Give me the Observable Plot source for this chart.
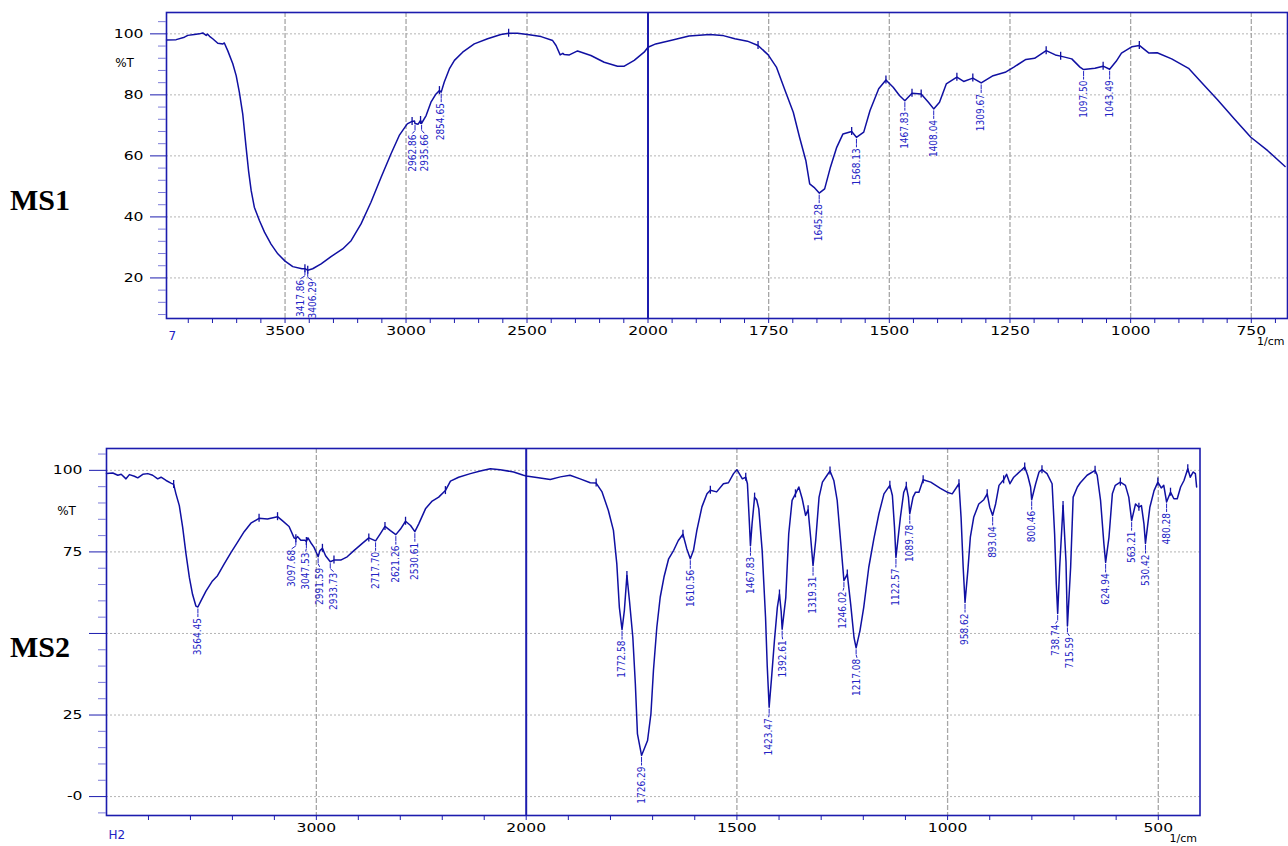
<!DOCTYPE html>
<html><head><meta charset="utf-8">
<script src="https://cdn.jsdelivr.net/npm/d3@7"></script>
<script src="https://cdn.jsdelivr.net/npm/@observablehq/plot@0.6"></script>
<style>
html,body{margin:0;padding:0;background:#fff}
body{width:1288px;height:846px;position:relative;overflow:hidden}
#p1{position:absolute;left:0;top:0}
#p2{position:absolute;left:0;top:430px}
.lab{position:absolute;font-family:"Liberation Serif","Times New Roman",serif;font-weight:bold;font-size:30px;line-height:30px;color:#000}
</style></head><body>
<div id="p1"></div><div id="p2"></div>
<div class="lab" style="left:10px;top:185px">MS1</div>
<div class="lab" style="left:10px;top:632px">MS2</div>
<script>
// ---------------- MS1 data ----------------
const ms1Wavenumber = [3990,3950,3916,3902,3875,3854,3840,3826,3820,3812,3799,3778,3757,3751,3737,3716,3702,3689,3675,3661,3651,3640,3627,3606,3585,3558,3530,3500,3468,3430,3417.86,3410,3406.29,3386,3351,3310,3262,3227,3186,3145,3103,3062,3028,2995,2975,2965,2962.86,2950,2940,2935.66,2917,2897,2876,2862,2854.65,2842,2821,2800,2766,2718,2663,2608,2576,2539,2498,2442,2394,2380,2363,2352,2346,2325,2291,2236,2181,2126,2098,2057,2016,2000,
  1984,1949,1915,1872,1846,1820,1794,1772,1751,1734,1716,1699,1686,1673,1665,1656,1645.28,1634,1622,1609,1596,1578,1568.13,1553,1540,1522,1507,1492,1479,1467.83,1453,1434,1419,1408.04,1396,1382,1360,1346,1327,1309.67,1285,1260,1242,1217,1199,1175,1156,1145,1122,1105,1097.5,1074,1057,1043.49,1030,1019,997,982,962,945,915,880,854,820,785,751,716,680];
const ms1Transmittance = [98.0,98.1,98.9,99.5,99.8,100.0,100.3,99.5,99.9,99.2,98.4,96.9,96.7,97.0,94.5,90.2,86.3,80.9,73.8,62.8,55.2,48.6,43.2,38.8,35.0,31.1,27.9,25.5,23.7,23.0,23.0,22.7,22.5,23.0,24.6,27.0,29.5,32.2,37.7,44.8,53.0,60.7,66.7,70.5,71.3,71.4,70.6,70.4,71.6,70.7,73.2,77.6,80.3,81.4,80.9,84.2,88.5,91.3,94.0,96.7,98.4,99.8,100.2,100.2,99.8,99.1,97.8,96.2,93.1,93.6,93.2,93.1,94.4,92.9,90.7,89.4,89.4,91.3,94.0,95.6,
  96.7,98.0,99.3,99.8,99.5,98.4,97.6,96.2,93.1,89.1,81.4,74.3,66.1,58.5,50.8,49.7,47.8,49.2,56.3,62.8,67.2,68.0,66.1,67.8,74.9,82.0,84.9,82.5,79.8,78.1,80.5,80.3,77.6,75.4,77.6,83.6,85.8,84.4,85.5,83.9,86.3,87.4,89.1,91.6,92.0,94.5,93.1,92.7,91.8,89.1,88.3,88.7,89.4,88.4,91.0,93.7,95.8,96.2,93.7,93.8,91.8,88.7,84.2,78.4,72.1,66.1,61.7,56.5];
const ms1PeakLabels = ["3417.86","3406.29","2962.86","2935.66","2854.65","1645.28","1568.13","1467.83","1408.04","1309.67","1097.50","1043.49"];
const ms1PeakTransmittance = [23.0,22.5,70.6,70.7,80.9,47.8,66.1,78.1,75.4,83.9,88.3,88.4];
const ms1MarkerWavenumber = [3417.86,3406.29,2975,2940,2862,2576,1772,1578,1507,1453,1434,1360,1327,1175,1145,1057,982];
const ms1MarkerTransmittance = [23.0,22.5,71.3,71.6,81.4,100.2,96.2,68.0,84.9,80.5,80.3,85.8,85.5,94.5,92.7,89.4,96.2];
const ms1XMajor = [3500,3000,2500,2000,1750,1500,1250,1000,750];
const ms1XMinor = [3900,3800,3700,3600,3400,3300,3200,3100,2900,2800,2700,2600,2400,2300,2200,2100,1950,1900,1850,1800,1700,1650,1600,1550,1450,1400,1350,1300,1200,1150,1100,1050,950,900,850,800,700];
const ms1YMajor = [20,40,60,80,100];

// ---------------- MS2 data ----------------
const ms2Wavenumber = [4000,3970,3946,3930,3907,3891,3867,3851,3827,3803,3780,3756,3740,3716,3693,3680,3669,3653,3637,3621,3605,3590,3574,3564.45,3550,3526,3495,3471,3439,3407,3376,3344,3312,3273,3233,3185,3162,3130,3106,3097.68,3090,3074,3055,3047.53,3040,3027,3011,2998,2991.59,2983,2971,2956,2933.73,2916,2884,2853,2821,2781,2750,2717.7,2694,2673,2647,2621.26,2599,2575,2551,2530.61,2512,2480,2448,2417,2385,2361,2322,2266,2219,2171,2124,2060,2013,2000,
  1975,1943,1919,1896,1872,1848,1834,1820,1805,1793,1785,1779,1772.58,1767,1761,1755,1747,1741,1736,1726.29,1720,1712,1704,1698,1690,1682,1673,1662,1650,1639,1628,1619,1610.56,1603,1595,1583,1571,1563,1548,1532,1520,1508,1500,1487,1479,1475,1471,1467.83,1464,1458,1453,1448,1440,1432,1428,1423.47,1418,1411,1404,1399,1395,1392.61,1384,1377,1369,1361,1353,1345,1337,1331,1325,1319.31,1313,1305,1297,1286,1279,1270,1262,1254,1246.02,1238,1230,1222,1217.08,1208,1199,1187,1175,1163,1151,1137,1131,1126,1122.57,1112,1104,1098,1093,1089.78,1082,1076,1068,1058,1040,1017,1001,989,973,968,963,958.62,952,946,938,926,914,906,900,893.04,886,878,867,860,852,843,827,817,810,803,800.46,791,783,776,764,752,746,742,738.74,734,726,719,717,715.59,708,702,692,685,669,650,645,637,629,624.94,617,609,602,590,578,570,563.21,554,546,540,534,530.42,520,510,501,493,487,480.28,471,463,455,447,439,430,424,417,412,409];
const ms2Transmittance = [99.0,99.2,98.5,98.8,97.4,98.7,98.2,97.7,98.8,99.0,98.5,97.4,97.9,96.9,96.1,95.7,92.8,89.2,82.5,74.3,67.1,62.0,58.4,58.1,60.0,63.0,66.1,67.7,71.3,74.8,77.9,81.2,83.8,85.3,85.1,85.8,84.6,82.8,79.3,79.0,79.7,78.6,78.6,78.2,79.3,77.9,76.4,74.5,73.5,75.4,76.1,73.8,72.0,72.5,72.5,73.5,75.4,77.6,79.3,78.4,80.7,82.8,81.5,80.3,82.0,84.4,83.1,81.2,83.6,88.2,90.6,91.8,93.8,96.7,97.9,99.0,99.8,100.5,100.2,99.5,98.5,98.3,
  97.8,97.2,98.0,98.5,97.4,96.2,96.1,93.4,87.7,81.6,71.4,58.1,51.2,57.1,67.8,60.1,48.9,34.6,19.2,12.6,14.6,17.2,25.4,38.7,51.9,61.1,67.3,72.9,75.5,78.5,80.4,76.0,72.9,75.5,81.6,88.8,92.8,93.9,93.4,95.9,96.2,99.0,100.2,97.4,97.9,95.9,85.6,76.9,83.6,91.8,91.0,88.2,75.4,54.9,40.0,27.4,36.0,47.7,58.0,62.1,56.9,51.3,61.0,80.5,90.8,92.8,94.9,91.3,86.2,87.9,79.5,70.8,78.5,91.8,96.4,98.5,99.8,96.9,90.8,78.5,66.2,68.2,59.0,48.7,45.6,50.8,58.0,70.3,79.0,86.7,92.8,95.4,92.3,82.6,73.3,85.6,93.3,95.1,91.8,86.7,91.8,93.3,93.3,97.1,96.4,94.5,93.3,92.8,95.9,85.6,70.3,59.5,69.2,79.5,85.6,89.7,91.0,92.8,88.7,86.2,89.7,95.4,97.1,98.8,95.9,97.9,99.8,101.0,98.5,94.9,91.0,95.9,99.5,100.2,99.0,95.9,80.5,65.1,56.1,70.3,89.2,72.0,60.0,52.3,70.3,91.8,94.9,96.2,98.5,100.0,98.5,90.8,77.4,71.8,79.5,92.8,95.4,96.4,95.4,91.8,84.6,89.7,88.7,89.2,83.6,77.6,88.7,93.8,96.4,94.6,95.4,90.3,93.3,91.3,91.3,94.9,96.9,100.5,97.9,99.5,99.0,94.9];
const ms2PeakLabels = ["3564.45","3097.68","3047.53","2991.59","2933.73","2717.70","2621.26","2530.61","1772.58","1726.29","1610.56","1467.83","1423.47","1392.61","1319.31","1246.02","1217.08","1122.57","1089.78","958.62","893.04","800.46","738.74","715.59","624.94","563.21","530.42","480.28"];
const ms2PeakTransmittance = [58.1,79.0,78.2,73.5,72.0,78.4,80.3,81.2,51.2,12.6,72.9,76.9,27.4,51.3,70.8,66.2,45.6,73.3,86.7,59.5,86.2,91.0,56.1,52.3,71.8,84.6,77.6,90.3];
const ms2MarkerWavenumber = [3680,3273,3185,3097.68,3047.53,2971,2916,2750,2673,2575,2385,1834,1761,1628,1563,1479,1458,1399,1361,1331,1279,1238,1137,1098,1058,973,906,867,817,776,726,650,590,546,501,471,430];
const ms2MarkerTransmittance = [95.7,85.3,85.8,79.0,78.2,76.1,72.5,79.3,82.8,84.4,93.8,96.1,67.8,80.4,93.9,97.9,91.8,62.1,92.8,87.9,99.8,68.2,95.4,95.1,97.1,95.9,92.8,97.1,101.0,100.2,89.2,100.0,96.4,88.7,96.4,93.3,100.5];
const ms2XMajor = [3000,2000,1500,1000,500];
const ms2XMinor = [3800,3600,3400,3200,2800,2600,2400,2200,1900,1800,1700,1600,1400,1300,1200,1100,900,800,700,600];
const ms2YMajor = [0,25,50,75,100];

// ---------------- styling ----------------
const CURVE = "#1010a2", BLUE = "#2222c4", FRAME = "#1c1cae", GRID = "#b4b4b4";
const AXFONT = "'DejaVu Sans', Verdana, sans-serif";
const LABFONT = "'DejaVu Sans Condensed','Liberation Sans Narrow','DejaVu Sans',sans-serif";

function spread(xs, gap) {
  const idx = xs.map((_, i) => i).sort((a, b) => xs[a] - xs[b]);
  const pos = idx.map(i => xs[i]);
  for (let it = 0; it < 300; it++) {
    let moved = false;
    for (let j = 1; j < pos.length; j++) {
      const d = pos[j] - pos[j - 1];
      if (d < gap - 0.01) { const s = (gap - d) / 2; pos[j - 1] -= s; pos[j] += s; moved = true; }
    }
    if (!moved) break;
  }
  const out = new Array(xs.length);
  idx.forEach((i, j) => out[i] = pos[j]);
  return out;
}

// stretch the glyphs of some text elements about their anchor point
function stretch(svg, selector, sx, sy) {
  svg.querySelectorAll(selector).forEach(t => {
    const tr = t.getAttribute("transform");
    if (tr) t.setAttribute("transform", tr + ` scale(${sx},${sy})`);
    else {
      const x = +(t.getAttribute("x") || 0), y = +(t.getAttribute("y") || 0);
      t.setAttribute("transform", `translate(${x},${y}) scale(${sx},${sy}) translate(${-x},${-y})`);
    }
  });
}

function panel(cfg) {
  const k = (cfg.height - cfg.mt - cfg.mb) / (cfg.yDomain[1] - cfg.yDomain[0]);
  const xs = d3.scaleLinear().domain(cfg.xDomain).range(cfg.xRange);
  const curve = cfg.wn.map((w, i) => ({w, v: cfg.tr[i]}));
  const peaks = cfg.peakLabels.map((s, i) => ({label: s, w: +s, v: cfg.peakTr[i]}));
  const lx = spread(peaks.map(p => xs(p.w)), cfg.gap);
  peaks.forEach((p, i) => p.wl = xs.invert(lx[i]));
  const markers = cfg.markW.map((w, i) => ({w, v: cfg.markTr[i]}));
  const xTicks = [...cfg.xMajor, ...cfg.xMinor];
  const svg = Plot.plot({
    width: 1288, height: cfg.height,
    marginLeft: cfg.xRange[0], marginRight: 1288 - cfg.xRange[2],
    marginTop: cfg.mt, marginBottom: cfg.mb,
    style: {fontFamily: AXFONT, fontSize: "12px", background: "#fff", overflow: "visible"},
    x: {type: "linear", domain: cfg.xDomain, range: cfg.xRange},
    y: {domain: cfg.yDomain},
    marks: [
      Plot.ruleY(cfg.yMajor, {stroke: GRID, strokeDasharray: "2,2"}),
      Plot.ruleX(cfg.xMajor.filter(d => d !== 2000), {stroke: "#a6a6a6", strokeWidth: 1.3, strokeDasharray: "5,2"}),
      Plot.ruleX([2000], {stroke: FRAME, strokeWidth: 2}),
      Plot.line(curve, {x: "w", y: "v", stroke: CURVE, strokeWidth: 1.5}),
      Plot.ruleX(markers, {x: "w", y1: d => d.v - 4 / k, y2: d => d.v + 4 / k, stroke: CURVE, strokeWidth: 1.3}),
      Plot.ruleX(peaks, {x: "w", y1: d => d.v - 2 / k, y2: d => d.v - 7 / k, stroke: BLUE, strokeWidth: 1}),
      Plot.link(peaks, {x1: "w", y1: d => d.v - 7 / k, x2: "wl", y2: d => d.v - 10 / k, stroke: BLUE, strokeWidth: 1}),
      Plot.text(peaks, {x: "wl", y: d => d.v - 11 / k, text: "label", rotate: -90, textAnchor: "end", lineAnchor: "middle", fontSize: 10, fontFamily: LABFONT, fill: BLUE, ariaLabel: "peak"}),
      Plot.frame({stroke: FRAME, strokeWidth: 1.6}),
      Plot.axisY(cfg.yMinor, {tickSize: 8, stroke: "#7c7cd8", tickFormat: () => "", label: null}),
      Plot.axisY(cfg.yMajor, {tickSize: cfg.majorTick, tickPadding: 7, stroke: FRAME, fill: "#000", tickFormat: cfg.yFormat, label: null}),
      Plot.axisX(xTicks, {tickSize: 5, tickPadding: 3, stroke: FRAME, fill: "#000", tickFormat: d => cfg.xMajor.includes(d) ? String(d) : "", label: null}),
      Plot.text(["%T"], {text: d => d, frameAnchor: "left", y: cfg.pctY, dx: cfg.pctDx, textAnchor: "middle", fill: "#000", fontSize: 12, ariaLabel: "wide"}),
      Plot.text([cfg.corner], {text: d => d, frameAnchor: "bottom-left", dx: 2, dy: cfg.cornerDy, textAnchor: "start", fill: BLUE, fontSize: 12, ariaLabel: "wide"}),
      Plot.text(["1/cm"], {text: d => d, frameAnchor: "bottom-right", dx: -3, dy: cfg.cmDy, textAnchor: "end", fill: "#000", fontSize: 11, ariaLabel: "wide"})
    ]
  });
  stretch(svg, 'g[aria-label="peak"] text', 0.82, 1.15);
  stretch(svg, 'g[aria-label$="tick label"] text', 1.3, 1);
  stretch(svg, 'g[aria-label="wide"] text', 1.25, 1);
  return svg;
}

document.getElementById("p1").append(panel({
  wn: ms1Wavenumber, tr: ms1Transmittance,
  peakLabels: ms1PeakLabels, peakTr: ms1PeakTransmittance,
  markW: ms1MarkerWavenumber, markTr: ms1MarkerTransmittance,
  xDomain: [3990, 2000, 675], xRange: [166, 647.5, 1287],
  yDomain: [6.7, 107], height: 350, mt: 12, mb: 32,
  xMajor: ms1XMajor, xMinor: ms1XMinor,
  yMajor: ms1YMajor, yMinor: d3.range(8, 106, 4).filter(d => !ms1YMajor.includes(d)),
  yFormat: d => String(d), majorTick: 16, gap: 12,
  pctY: 90.3, pctDx: -42, corner: "7", cornerDy: 21, cmDy: 26
}));

document.getElementById("p2").append(panel({
  wn: ms2Wavenumber, tr: ms2Transmittance,
  peakLabels: ms2PeakLabels, peakTr: ms2PeakTransmittance,
  markW: ms2MarkerWavenumber, markTr: ms2MarkerTransmittance,
  xDomain: [4000, 2000, 401], xRange: [106, 525.7, 1199.5],
  yDomain: [-5.8, 106.7], height: 416, mt: 18, mb: 31,
  xMajor: ms2XMajor, xMinor: ms2XMinor,
  yMajor: ms2YMajor, yMinor: d3.range(-5, 106, 5).filter(d => !ms2YMajor.includes(d)),
  yFormat: d => d === 0 ? "-0" : d === 50 ? "" : String(d), majorTick: 17, gap: 14,
  pctY: 87.4, pctDx: -40, corner: "H2", cornerDy: 23, cmDy: 26
}));
</script>
</body></html>
